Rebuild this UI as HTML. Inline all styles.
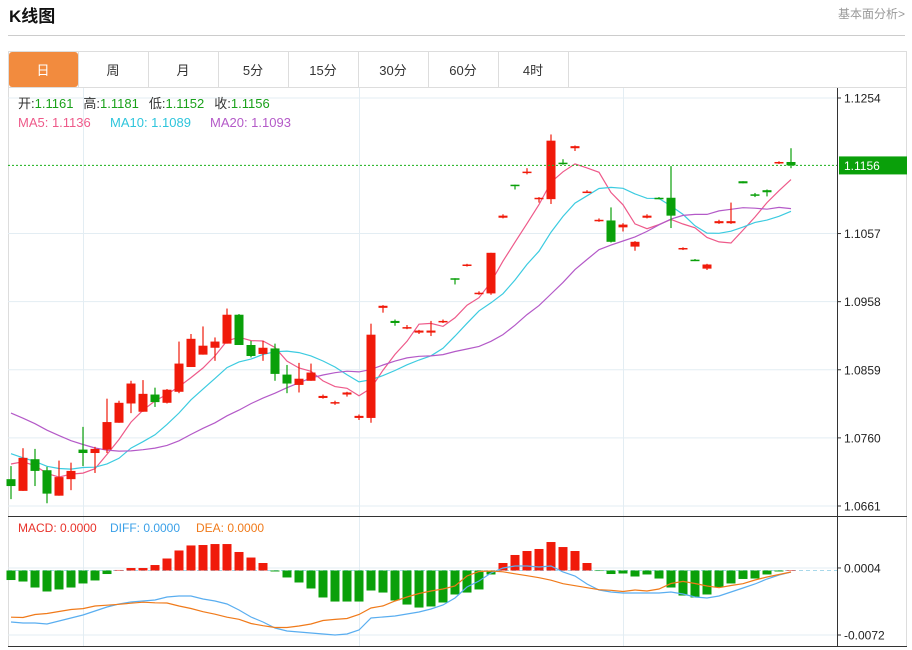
<!DOCTYPE html>
<html><head><meta charset="utf-8">
<style>
body{margin:0;width:912px;height:650px;overflow:hidden;background:#fff;font-family:"Liberation Sans","Noto Sans CJK SC",sans-serif;}
svg{position:absolute;left:0;top:0}
text{font-family:"Liberation Sans","Noto Sans CJK SC",sans-serif}
</style></head><body>
<svg width="912" height="650" id="svg">
 <text x="9" y="22" font-size="17" font-weight="bold" fill="#111">K线图</text>
 <text x="905" y="18" font-size="12" fill="#999" text-anchor="end">基本面分析&gt;</text>
 <line x1="8" y1="35.5" x2="905" y2="35.5" stroke="#ccc"/>
 <rect x="8.5" y="51.5" width="898" height="595" fill="none" stroke="#ddd"/>
 <line x1="8" y1="87.5" x2="907" y2="87.5" stroke="#ddd"/>
 <g id="tabs"></g>
 <g id="grid"></g>
 <g id="main"></g>
 <g id="macd"></g>
 <line x1="837.5" y1="88" x2="837.5" y2="647" stroke="#333"/>
 <line x1="8" y1="516.5" x2="907" y2="516.5" stroke="#333"/>
 <line x1="8" y1="646.5" x2="907" y2="646.5" stroke="#333"/>
 <g id="axis"></g>
 <g font-size="13">
  <text x="18" y="108"><tspan fill="#333">开:</tspan><tspan fill="#1aa11a">1.1161</tspan><tspan fill="#333" dx="10">高:</tspan><tspan fill="#1aa11a">1.1181</tspan><tspan fill="#333" dx="10">低:</tspan><tspan fill="#1aa11a">1.1152</tspan><tspan fill="#333" dx="10">收:</tspan><tspan fill="#1aa11a">1.1156</tspan></text>
 </g>
 <g font-size="13">
  <text x="18" y="127" fill="#ee5a8a">MA5: 1.1136</text>
  <text x="110" y="127" fill="#2ec5dc">MA10: 1.1089</text>
  <text x="210" y="127" fill="#b45ac8">MA20: 1.1093</text>
 </g>
 <g font-size="12">
  <text x="18" y="532" fill="#e8322a">MACD: 0.0000</text>
  <text x="110" y="532" fill="#3aa0e8">DIFF: 0.0000</text>
  <text x="196" y="532" fill="#f07a1a">DEA: 0.0000</text>
 </g>
</svg>
<script>
const tabLabels=["日","周","月","5分","15分","30分","60分","4时"];
const opens=[1.0700,1.0683,1.0729,1.0713,1.0676,1.0700,1.0743,1.0738,1.0743,1.0782,1.0810,1.0798,1.0823,1.0811,1.0827,1.0863,1.0881,1.0891,1.0897,1.0939,1.0895,1.0882,1.0890,1.0852,1.0837,1.0843,1.0818,1.0810,1.0823,1.0789,1.0789,1.0949,1.0930,1.0920,1.0913,1.0913,1.0929,1.0992,1.1010,1.0970,1.0970,1.1080,1.1128,1.1146,1.1107,1.1107,1.1160,1.1181,1.1117,1.1076,1.1076,1.1066,1.1038,1.1080,1.1109,1.1109,1.1034,1.1019,1.1006,1.1072,1.1072,1.1133,1.1114,1.1120,1.1159,1.1161];
const closes=[1.0690,1.0731,1.0712,1.0679,1.0703,1.0712,1.0738,1.0744,1.0783,1.0811,1.0839,1.0824,1.0812,1.0830,1.0868,1.0904,1.0894,1.0900,1.0939,1.0895,1.0879,1.0891,1.0853,1.0839,1.0846,1.0855,1.0821,1.0812,1.0826,1.0792,1.0910,1.0952,1.0927,1.0921,1.0916,1.0916,1.0930,1.0990,1.1012,1.0971,1.1029,1.1083,1.1127,1.1147,1.1109,1.1192,1.1159,1.1184,1.1118,1.1077,1.1045,1.1070,1.1045,1.1083,1.1107,1.1083,1.1036,1.1018,1.1012,1.1075,1.1075,1.1130,1.1113,1.1117,1.1161,1.1156];
const highs=[1.0719,1.0745,1.0744,1.0718,1.0727,1.0724,1.0776,1.0747,1.0817,1.0814,1.0843,1.0844,1.0833,1.0831,1.0900,1.0911,1.0922,1.0906,1.0948,1.0940,1.0901,1.0901,1.0897,1.0866,1.0869,1.0868,1.0823,1.0814,1.0827,1.0794,1.0926,1.0953,1.0932,1.0924,1.0917,1.0930,1.0932,1.0992,1.1013,1.0973,1.1029,1.1085,1.1128,1.1152,1.1110,1.1201,1.1165,1.1185,1.1120,1.1079,1.1095,1.1072,1.1046,1.1085,1.1110,1.1155,1.1037,1.1020,1.1013,1.1077,1.1102,1.1133,1.1116,1.1121,1.1162,1.1181];
const lows=[1.0671,1.0683,1.0690,1.0665,1.0676,1.0684,1.0719,1.0709,1.0738,1.0782,1.0796,1.0798,1.0805,1.0810,1.0825,1.0863,1.0881,1.0872,1.0897,1.0895,1.0877,1.0872,1.0843,1.0825,1.0826,1.0843,1.0817,1.0808,1.0820,1.0786,1.0782,1.0942,1.0923,1.0918,1.0911,1.0908,1.0927,1.0983,1.1009,1.0968,1.0968,1.1079,1.1121,1.1143,1.1102,1.1100,1.1157,1.1177,1.1116,1.1074,1.1044,1.1060,1.1032,1.1079,1.1107,1.1065,1.1033,1.1017,1.1004,1.1071,1.1071,1.1130,1.1110,1.1111,1.1158,1.1152];
const priorCloses=[1.0880,1.0872,1.0868,1.0860,1.0858,1.0850,1.0846,1.0842,1.0840,1.0834,1.0790,1.0765,1.0750,1.0735,1.0720,1.0715,1.0740,1.0735,1.0730];
const priceTicks=[1.1254,1.1057,1.0958,1.0859,1.0760,1.0661];
const macdHist=[-0.00108,-0.00125,-0.00193,-0.00238,-0.00215,-0.00193,-0.00147,-0.00113,-0.0004,0.00006,0.00028,0.00028,0.00062,0.00136,0.00227,0.00284,0.00289,0.003,0.003,0.0021,0.00147,0.00085,-0.00011,-0.00079,-0.00136,-0.00204,-0.00306,-0.00352,-0.00352,-0.00352,-0.00227,-0.0025,-0.0034,-0.00386,-0.0042,-0.00408,-0.00363,-0.00272,-0.0025,-0.00215,-0.00045,0.00085,0.00176,0.00221,0.00244,0.00323,0.00266,0.00221,0.00085,-0.00006,-0.0004,-0.00034,-0.00068,-0.00045,-0.00091,-0.00193,-0.00284,-0.00306,-0.00272,-0.00187,-0.00147,-0.00096,-0.00091,-0.00045,-0.00011,0];
const diffValues=[-0.00584,-0.00595,-0.00595,-0.00607,-0.00573,-0.00539,-0.00505,-0.00459,-0.00414,-0.0038,-0.00357,-0.00346,-0.00335,-0.003,-0.00289,-0.00289,-0.00323,-0.00346,-0.0038,-0.00448,-0.00527,-0.00584,-0.00652,-0.00686,-0.00697,-0.00709,-0.0072,-0.00731,-0.0072,-0.00675,-0.00539,-0.00527,-0.00516,-0.00493,-0.00471,-0.00437,-0.00391,-0.00312,-0.00187,-0.00119,-0.00028,0.00028,0.00051,0.00051,0.0004,0.00051,-0.00017,-0.00062,-0.00153,-0.00221,-0.00244,-0.00255,-0.00255,-0.00255,-0.00255,-0.00244,-0.00266,-0.003,-0.00312,-0.00289,-0.00244,-0.00198,-0.00153,-0.00096,-0.00051,-0.00017];
const macdTicks=[0.0004,-0.0072];
const lastPrice=1.1156;

const NS="http://www.w3.org/2000/svg";
function mk(tag,attrs,parent){const e=document.createElementNS(NS,tag);for(const k in attrs)e.setAttribute(k,attrs[k]);parent.appendChild(e);return e;}
const yP=p=>98+(1.1254-p)*(408/0.0593);
const xC=i=>11+i*12;
const yM=v=>570.5-v/0.0001134;
const RED="#f01a0a",GREEN="#0aa00a";

const tabs=document.getElementById('tabs');
tabLabels.forEach((t,i)=>{
 const g=mk('g',{},tabs);
 
 
 const x=8+i*70;
 if(i===0) mk('rect',{x:x+1,y:52,width:69,height:35,rx:3,fill:'#f28b3e'},g);
 else mk('line',{x1:x+0.5,y1:52,x2:x+0.5,y2:87,stroke:'#ddd'},g);
 const tx=mk('text',{x:x+35,y:75,'font-size':13,'text-anchor':'middle',fill:i===0?'#fff':'#333'},g);
 tx.textContent=t;
});
mk('line',{x1:568.5,y1:52,x2:568.5,y2:87,stroke:'#ddd'},tabs);

const grid=document.getElementById('grid');
priceTicks.forEach(p=>{const l=mk('line',{x1:8,y1:yP(p),x2:837,y2:yP(p),stroke:'#e3edf3'},grid);
 });
macdTicks.forEach(v=>{mk('line',{x1:8,y1:yM(v)+1,x2:837,y2:yM(v)+1,stroke:'#e3edf3'},grid);});
[83.5,359.5,623.5].forEach(x=>mk('line',{x1:x,y1:88,x2:x,y2:646,stroke:'#e3edf3'},grid));

function ma(n){const all=priorCloses.concat(closes);const off=priorCloses.length;return closes.map((c,i)=>{let s=0;for(let k=0;k<n;k++)s+=all[off+i-k];return s/n;});}
const main=document.getElementById('main');
[[5,'#ee5a8a','ma5-line'],[10,'#3ccbe0','ma10-line'],[20,'#b45ac8','ma20-line']].forEach(([n,c,nm])=>{
 const v=ma(n);const pts=v.map((m,i)=>xC(i)+','+yP(m).toFixed(1)).join(' ');
 const pl=mk('polyline',{points:pts,fill:'none',stroke:c,'stroke-width':1.2},main);
 
});
closes.forEach((c,i)=>{
 const o=opens[i],up=c>=o,col=up?RED:GREEN;
 const g=mk('g',{},main);
 
 
 const x=xC(i);
 mk('line',{x1:x,y1:yP(highs[i]),x2:x,y2:yP(lows[i]),stroke:col,'stroke-width':1.2},g);
 const t=yP(Math.max(o,c)),b=yP(Math.min(o,c));
 mk('rect',{x:x-4.5,y:t,width:9,height:Math.max(1.5,b-t),fill:col},g);
});
const lp=mk('line',{x1:8,y1:yP(lastPrice),x2:837,y2:yP(lastPrice),stroke:'#19b019','stroke-dasharray':'2,2'},main);


const mg=document.getElementById('macd');
const zl=mk('line',{x1:8,y1:yM(0),x2:837,y2:yM(0),stroke:'#a8d8ea','stroke-dasharray':'4,3'},mg);

macdHist.forEach((v,i)=>{
 const y0=yM(0),y1=yM(v);
 const r=mk('rect',{x:xC(i)-4.5,y:Math.min(y0,y1),width:9,height:Math.max(0.5,Math.abs(y1-y0)),fill:v>=0?RED:GREEN},mg);
 
});
const deaValues=diffValues.map((d,i)=>d-macdHist[i]/2);
const dl=mk('polyline',{points:diffValues.map((v,i)=>xC(i)+','+yM(v).toFixed(1)).join(' '),fill:'none',stroke:'#5aaef0','stroke-width':1.2},mg);

const el=mk('polyline',{points:deaValues.map((v,i)=>xC(i)+','+yM(v).toFixed(1)).join(' '),fill:'none',stroke:'#f07a1a','stroke-width':1.2},mg);


const ax=document.getElementById('axis');
priceTicks.forEach(p=>{
 const y=yP(p);
 mk('line',{x1:837,y1:y,x2:841,y2:y,stroke:'#333'},ax);
 const t=mk('text',{x:844,y:y+4.5,'font-size':12,fill:'#222'},ax);
 
 t.textContent=p.toFixed(4);
});
macdTicks.forEach(v=>{
 const y=yM(v)+1;
 mk('line',{x1:837,y1:y,x2:841,y2:y,stroke:'#333'},ax);
 const t=mk('text',{x:844,y:y+4.5,'font-size':12,fill:'#222'},ax);
 
 t.textContent=v.toFixed(4);
});
const ly=yP(lastPrice);
const bx=mk('rect',{x:839,y:ly-9,width:68,height:18,fill:'#0aa00a'},ax);

const lt=mk('text',{x:844,y:ly+4.5,'font-size':12,fill:'#fff'},ax);
lt.textContent=lastPrice.toFixed(4);
</script>
</body></html>
